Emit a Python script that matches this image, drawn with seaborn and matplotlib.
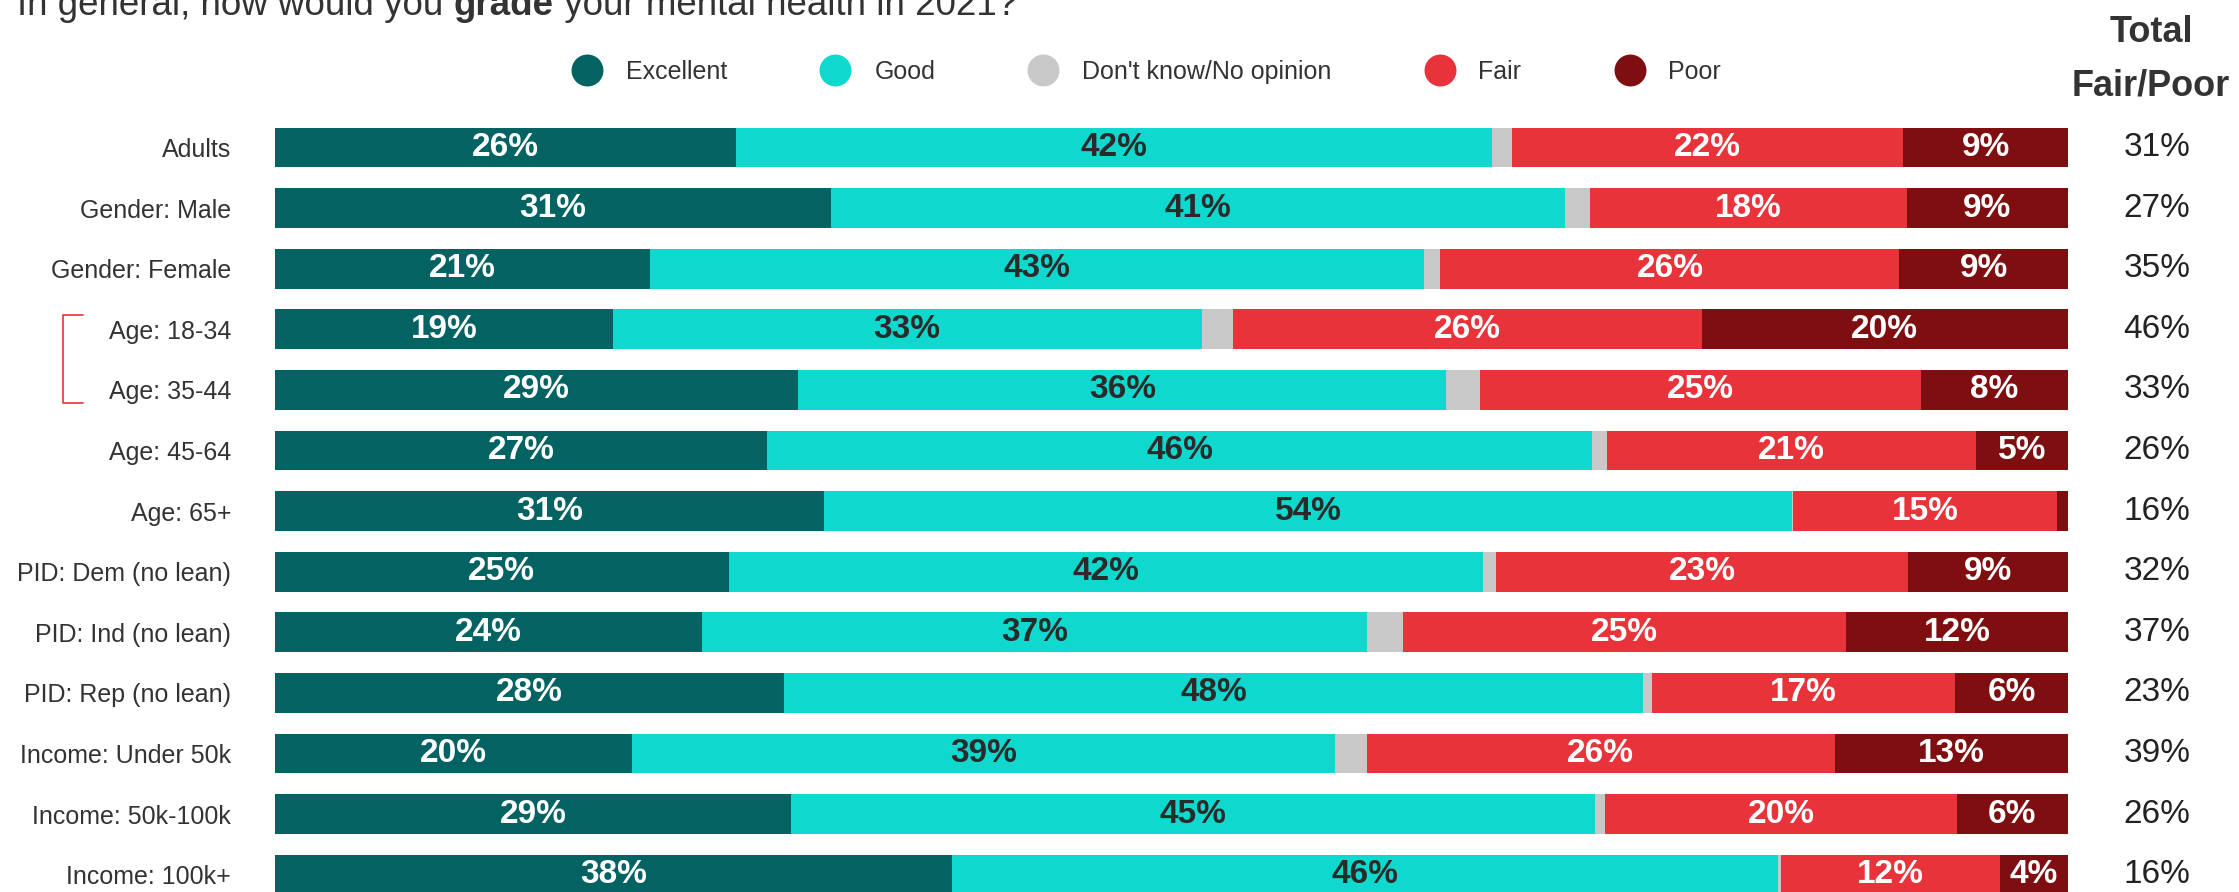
import numpy as np
import pandas as pd
import matplotlib
matplotlib.use("Agg")
import matplotlib.pyplot as plt
from matplotlib.lines import Line2D
from matplotlib.transforms import blended_transform_factory
import seaborn as sns

# ---------------- data ----------------
groups = ["Adults", "Gender: Male", "Gender: Female", "Age: 18-34", "Age: 35-44",
          "Age: 45-64", "Age: 65+", "PID: Dem (no lean)", "PID: Ind (no lean)",
          "PID: Rep (no lean)", "Income: Under 50k", "Income: 50k-100k", "Income: 100k+"]
excellent = [25.7, 31.0, 20.9, 18.8, 29.2, 27.4, 30.6, 25.3, 23.8, 28.4, 19.9, 28.8, 37.8]
good      = [42.2, 41.0, 43.2, 32.8, 36.2, 46.0, 53.9, 42.1, 37.1, 47.9, 39.2, 44.8, 46.1]
dont_know = [1.1, 1.35, 0.9, 1.75, 1.9, 0.8, 0.1, 0.7, 2.0, 0.5, 1.75, 0.6, 0.2]
fair      = [21.8, 17.7, 25.6, 26.1, 24.6, 20.6, 14.7, 23.0, 24.7, 16.9, 26.1, 19.6, 12.2]
poor      = [9.2, 9.0, 9.4, 20.4, 8.2, 5.1, 0.6, 8.9, 12.4, 6.3, 13.0, 6.2, 3.8]
total_fair_poor = ["31%", "27%", "35%", "46%", "33%", "26%", "16%", "32%", "37%",
                   "23%", "39%", "26%", "16%"]

series_names = ["Excellent", "Good", "Don't know/No opinion", "Fair", "Poor"]
colors = ["#036262", "#0fd8cf", "#c8c8c8", "#e8333a", "#7f0e10"]
label_colors = ["white", "#2a2a2a", None, "white", "white"]

# ---------------- figure ----------------
sns.set_style("white")
plt.rcParams["font.family"] = ["Liberation Sans", "DejaVu Sans"]

W, H = 2239, 892
fig = plt.figure(figsize=(W / 100, H / 100), dpi=100)

def fx(px):
    return px / W

def fy(py):
    return 1 - py / H

ax_left, ax_right = 275, 2068
ax_top, ax_bot = 117.2, 905.0
ax = fig.add_axes([fx(ax_left), fy(ax_bot), fx(ax_right - ax_left), (ax_bot - ax_top) / H])

df = pd.DataFrame({"group": groups, "Excellent": excellent, "Good": good,
                   "Don't know/No opinion": dont_know, "Fair": fair, "Poor": poor})
vals = df[series_names].to_numpy(dtype=float)
vals = vals / vals.sum(axis=1, keepdims=True) * 100
cum = np.cumsum(vals, axis=1)
for j, name in enumerate(series_names):
    df["cum_" + name] = cum[:, j]

# draw from the full length backwards so each layer overlays
for j in range(len(series_names) - 1, -1, -1):
    sns.barplot(data=df, x="cum_" + series_names[j], y="group", orient="h",
                color=colors[j], saturation=1, width=0.66, errorbar=None,
                linewidth=0, ax=ax)

ax.set_xlim(0, 100)
ax.set_ylim(12.5, -0.5)
ax.set_xlabel("")
ax.set_ylabel("")
ax.set_xticks([])
for s in ax.spines.values():
    s.set_visible(False)
ax.tick_params(axis="y", length=0, pad=31.5, labelsize=18, labelcolor="#333333")

# segment labels
raw = df[series_names].to_numpy(dtype=float)
for i in range(len(groups)):
    starts = np.concatenate([[0], cum[i, :-1]])
    for j, name in enumerate(series_names):
        if label_colors[j] is None or raw[i, j] < 3:
            continue
        ax.text(starts[j] + vals[i, j] / 2, i, f"{raw[i, j]:.0f}%", ha="center",
                va="center", fontsize=24, fontweight="bold", color=label_colors[j])

# right column totals
tr = blended_transform_factory(fig.transFigure, ax.transData)
for i, t in enumerate(total_fair_poor):
    ax.text(fx(2157), i, t, transform=tr, ha="center", va="center",
            fontsize=24, color="#222222")

fig.text(fx(2151), fy(42), "Total", ha="center", va="baseline", fontsize=26,
         fontweight="bold", color="#333333")
fig.text(fx(2151), fy(95), "Fair/Poor", ha="center", va="baseline", fontsize=26,
         fontweight="bold", color="#333333")

# legend
handles = [Line2D([0], [0], marker="o", linestyle="none", markersize=23,
                  markerfacecolor=c, markeredgewidth=0) for c in colors]
fig.legend(handles, series_names, loc="center left", bbox_to_anchor=(fx(571), fy(72)),
           ncol=5, frameon=False, fontsize=18, handlelength=1.28, handletextpad=0.92,
           columnspacing=3.68, borderpad=0, borderaxespad=0, labelcolor="#333333")

# title with bold word
renderer = fig.canvas.get_renderer()
x = fx(17)
for piece, weight in [("In general, how would you ", "normal"), ("grade", "bold"),
                      (" your mental health in 2021?", "normal")]:
    t = fig.text(x, fy(15), piece, ha="left", va="baseline", fontsize=26.5,
                 fontweight=weight, color="#333333")
    bb = t.get_window_extent(renderer=renderer)
    x = bb.x1 / W

# bracket for young age groups
bx = [83, 63, 63, 83]
by = [315, 315, 403, 403]
fig.add_artist(Line2D([fx(v) for v in bx], [fy(v) for v in by], color="#e8333a",
                      linewidth=1.2, transform=fig.transFigure))

fig.savefig("out.png", dpi=100)
